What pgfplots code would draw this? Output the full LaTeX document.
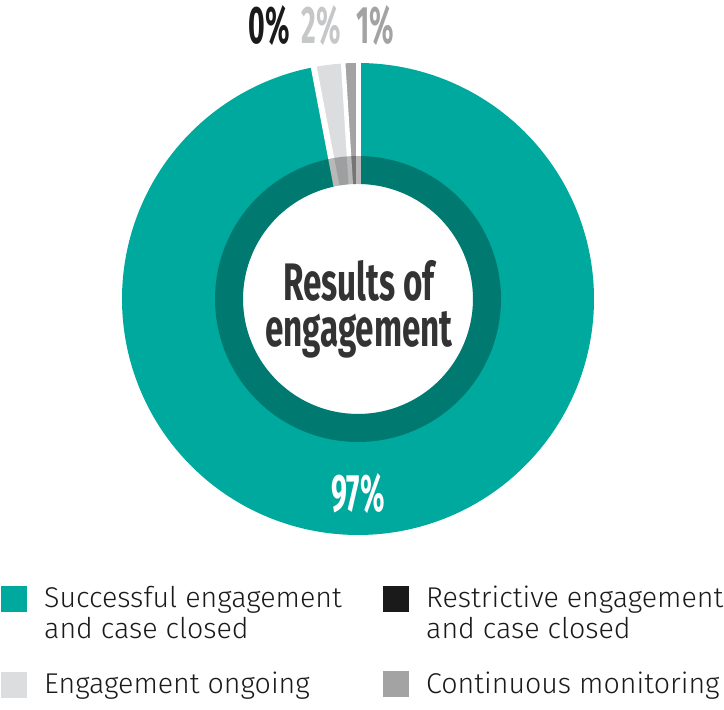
\documentclass[border=0pt]{standalone}
\usepackage{fontspec}
\usepackage{pgfplots}
\usepackage{pgfplotstable}
\pgfplotsset{compat=1.18}
\setmainfont{Fira Sans}
\IfFontExistsTF{Fira Sans Light}{\newfontfamily\legfont{Fira Sans Light}}{\newfontfamily\legfont{Fira Sans}}
\newfontfamily\condfont{Fira Sans}[FakeStretch=0.63]
\newfontfamily\pctfont{Fira Sans}[FakeStretch=0.54]
\definecolor{tealc}{HTML}{00A99D}
\definecolor{lgray}{HTML}{DCDDDE}
\definecolor{mgray}{HTML}{A3A3A3}
\definecolor{blackc}{HTML}{1A1A1A}
\definecolor{titlec}{HTML}{333333}
\pgfplotstableread{
name value
Successful 97
Restrictive 0
Ongoing 2
Monitoring 1
}\datatable
\begin{document}
\begin{tikzpicture}
\pgfplotstablegetelem{0}{value}\of\datatable \let\vA\pgfplotsretval
\pgfplotstablegetelem{1}{value}\of\datatable \let\vB\pgfplotsretval
\pgfplotstablegetelem{2}{value}\of\datatable \let\vC\pgfplotsretval
\pgfplotstablegetelem{3}{value}\of\datatable \let\vD\pgfplotsretval
\pgfmathsetmacro\aA{90}
\pgfmathsetmacro\aB{\aA-3.6*\vA}
\pgfmathsetmacro\aC{\aB-3.6*\vB}
\pgfmathsetmacro\aD{\aC-3.6*\vC}
\pgfmathsetmacro\aE{\aD-3.6*\vD}
\begin{axis}[name=main, at={(0,0)}, anchor=south west, scale only axis,
  width=724bp, height=710bp, xmin=0, xmax=724, ymin=0, ymax=710,
  hide axis, clip=false]
% donut segments
\addplot[tealc, line width=121bp, domain=\aB:\aA, samples=360, no marks] ({358+175.5*cos(x)},{411+175.5*sin(x)});
\addplot[lgray, line width=121bp, domain=\aD:\aC, samples=20, no marks] ({358+175.5*cos(x)},{411+175.5*sin(x)});
\addplot[mgray, line width=121bp, domain=\aE:\aD, samples=20, no marks] ({358+175.5*cos(x)},{411+175.5*sin(x)});
% white separators
\addplot[white, line width=5bp, domain=112:240, samples=2, no marks] ({358+x*cos(\aA)},{411+x*sin(\aA)});
\addplot[white, line width=6bp, domain=112:240, samples=2, no marks] ({358+x*cos(\aB)},{411+x*sin(\aB)});
\addplot[white, line width=4.5bp, domain=112:240, samples=2, no marks] ({358+x*cos(\aD)},{411+x*sin(\aD)});
% darker inner ring
\addplot[black, opacity=0.28, line width=28bp, domain=0:360, samples=360, no marks] ({358+129*cos(x)},{411+129*sin(x)});
% legend squares
\addplot[only marks, mark=square*, mark size=12.5bp, mark options={draw=tealc, fill=tealc, line width=0pt}] coordinates {(13.5,111)};
\addplot[only marks, mark=square*, mark size=12.5bp, mark options={draw=lgray, fill=lgray, line width=0pt}] coordinates {(13.5,24.5)};
\addplot[only marks, mark=square*, mark size=12.5bp, mark options={draw=blackc, fill=blackc, line width=0pt}] coordinates {(396,111)};
\addplot[only marks, mark=square*, mark size=12.5bp, mark options={draw=mgray, fill=mgray, line width=0pt}] coordinates {(396,25.5)};
% title and labels
\node[anchor=center, align=center, text=titlec, font=\condfont\bfseries\fontsize{53}{46}\selectfont, inner sep=0pt] at (axis cs:359,400.5) {Results of\\engagement};
\node[anchor=base, text=white, font=\pctfont\bfseries\fontsize{53}{53}\selectfont, inner sep=0pt] at (axis cs:358,198) {97\%};
\node[anchor=base, text=blackc, font=\pctfont\bfseries\fontsize{53}{53}\selectfont, inner sep=0pt] at (axis cs:269.5,666) {0\%};
\node[anchor=base, text=lgray!90!black, font=\pctfont\bfseries\fontsize{53}{53}\selectfont, inner sep=0pt] at (axis cs:321,666) {2\%};
\node[anchor=base, text=mgray, font=\pctfont\bfseries\fontsize{53}{53}\selectfont, inner sep=0pt] at (axis cs:375.5,666) {1\%};
% legend texts
\node[anchor=base west, text=blackc, font=\legfont\fontsize{28.7}{31}\selectfont, inner sep=0pt] at (axis cs:44,102) {Successful engagement};
\node[anchor=base west, text=blackc, font=\legfont\fontsize{28.7}{31}\selectfont, inner sep=0pt] at (axis cs:44,71) {and case closed};
\node[anchor=base west, text=blackc, font=\legfont\fontsize{28.7}{31}\selectfont, inner sep=0pt] at (axis cs:44,16) {Engagement ongoing};
\node[anchor=base west, text=blackc, font=\legfont\fontsize{28.7}{31}\selectfont, inner sep=0pt] at (axis cs:426,102) {Restrictive engagement};
\node[anchor=base west, text=blackc, font=\legfont\fontsize{28.7}{31}\selectfont, inner sep=0pt] at (axis cs:426,71) {and case closed};
\node[anchor=base west, text=blackc, font=\legfont\fontsize{28.7}{31}\selectfont, inner sep=0pt] at (axis cs:426,16) {Continuous monitoring};
\end{axis}
\path (main.south west) rectangle (main.north east);
\end{tikzpicture}
\end{document}
